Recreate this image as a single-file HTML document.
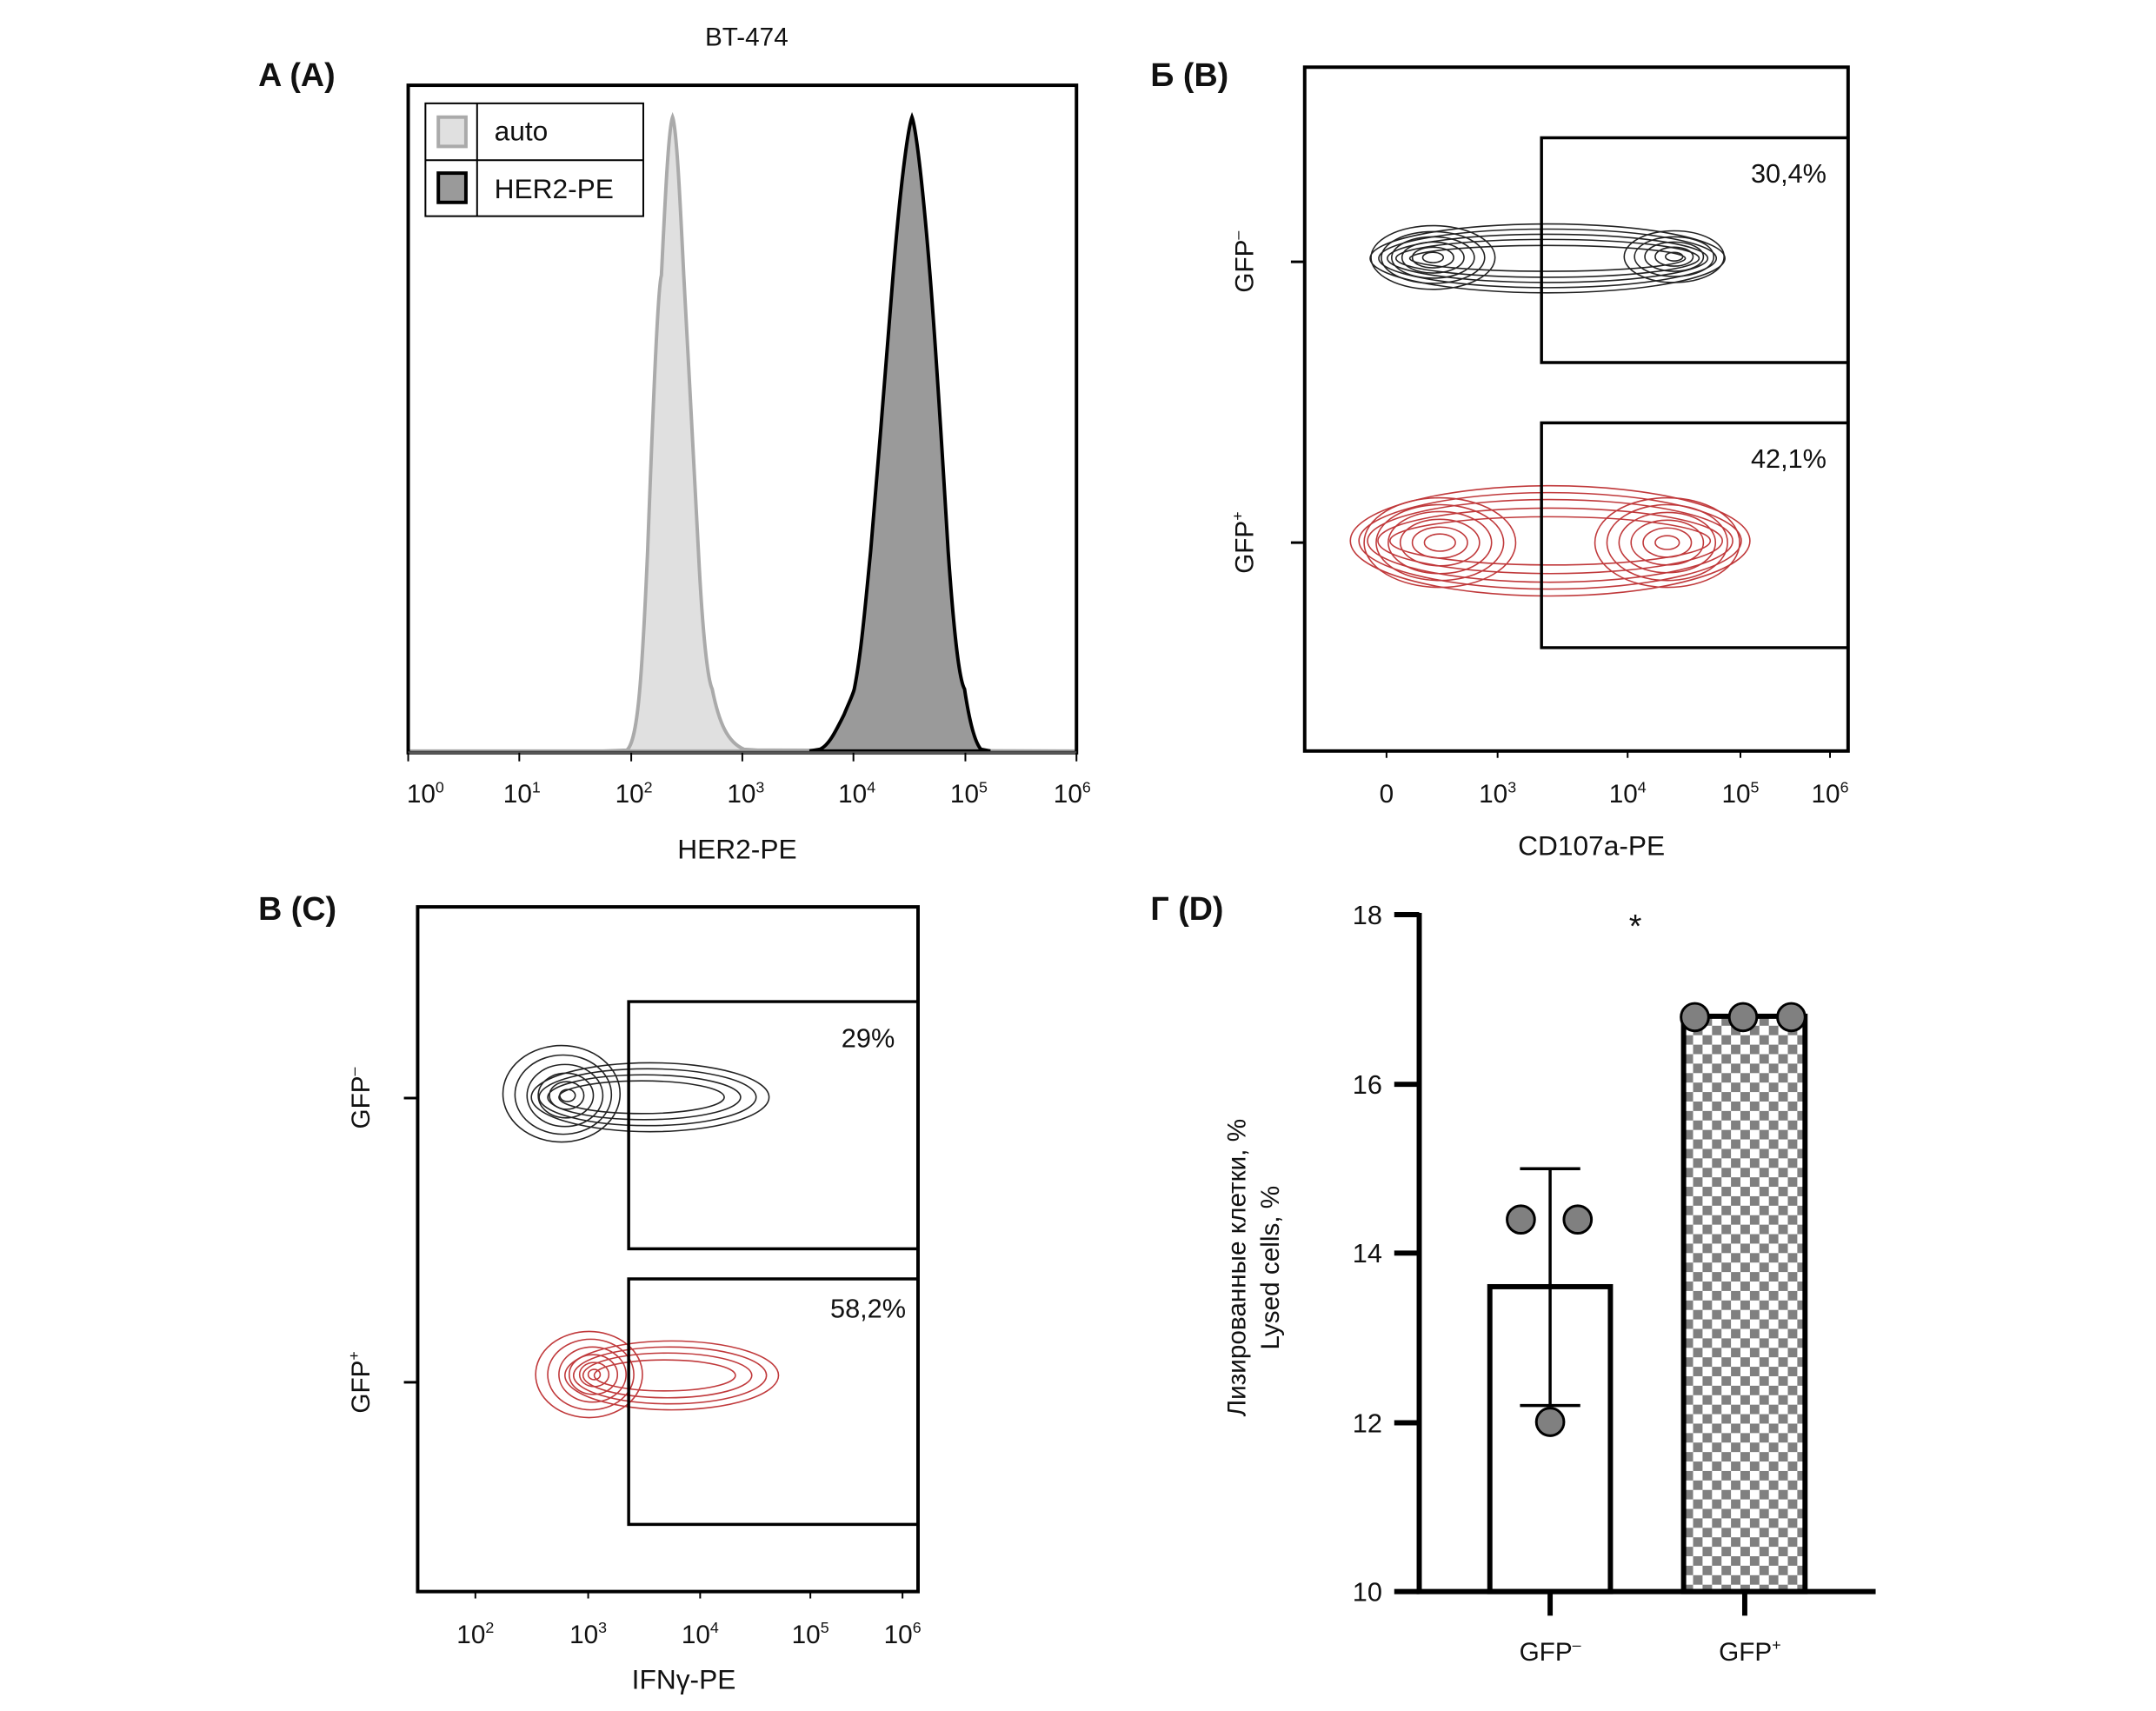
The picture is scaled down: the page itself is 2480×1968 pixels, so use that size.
<!DOCTYPE html>
<html><head><meta charset="utf-8"><style>
html,body{margin:0;padding:0;background:#fff;}
svg text{font-family:"Liberation Sans Narrow","Liberation Sans",sans-serif;fill:#111;}
</style></head><body>
<svg width="2480" height="1963" viewBox="0 0 2480 1963" xmlns="http://www.w3.org/2000/svg">
<defs>
<pattern id="chk" width="22" height="22" patternUnits="userSpaceOnUse" x="1955" y="1180">
<rect width="22" height="22" fill="#fff"/>
<rect width="11" height="11" fill="#808080"/>
<rect x="11" y="11" width="11" height="11" fill="#808080"/>
</pattern>
</defs>
<g transform="scale(0.9906)">
<!-- ===== Panel A ===== -->
<text x="867" y="53" font-size="30" text-anchor="middle">BT-474</text>
<text x="300" y="100" font-size="38" font-weight="bold">A (A)</text>
<path d="M476,872 L700,872 L728,871 C740,860 745,800 752,640 C758,480 764,330 768,320 C772,240 776,150 781,136 C786,150 790,240 794,320 C800,420 806,560 811,640 C816,740 822,790 827,800 C835,840 845,862 864,870 L880,871 L1248,872 Z" fill="#e0e0e0" stroke="#aaa" stroke-width="4"/>
<path d="M940,872 L952,870 C962,866 970,850 980,830 C986,815 990,808 992,800 C1000,760 1005,700 1011,640 C1020,540 1030,400 1037,320 C1045,220 1054,150 1059,136 C1064,150 1072,220 1080,320 C1088,420 1095,540 1101,640 C1108,740 1114,790 1120,800 C1126,840 1132,862 1139,870 L1150,872 Z" fill="#9a9a9a" stroke="#000" stroke-width="4"/>
<rect x="474" y="99" width="776" height="775" fill="none" stroke="#000" stroke-width="4"/>
<line x1="474" y1="874" x2="1250" y2="874" stroke="#555" stroke-width="3"/>
<rect x="494" y="120" width="253" height="131" fill="#fff" stroke="#000" stroke-width="2"/>
<line x1="554" y1="120" x2="554" y2="251" stroke="#000" stroke-width="2"/>
<line x1="494" y1="186" x2="747" y2="186" stroke="#000" stroke-width="2"/>
<rect x="509" y="136" width="32" height="34" fill="#e0e0e0" stroke="#aaa" stroke-width="4"/>
<rect x="509" y="201" width="32" height="34" fill="#9a9a9a" stroke="#000" stroke-width="4"/>
<text x="574" y="163" font-size="32">auto</text>
<text x="574" y="230" font-size="32">HER2-PE</text>
<g stroke="#000" stroke-width="2">
<line x1="474" y1="874" x2="474" y2="884"/><line x1="603" y1="874" x2="603" y2="884"/><line x1="733" y1="874" x2="733" y2="884"/><line x1="862" y1="874" x2="862" y2="884"/><line x1="991" y1="874" x2="991" y2="884"/><line x1="1121" y1="874" x2="1121" y2="884"/><line x1="1250" y1="874" x2="1250" y2="884"/>
</g>
<g font-size="30" text-anchor="middle">
<text x="494" y="932">10<tspan font-size="18" dy="-12">0</tspan></text>
<text x="606" y="932">10<tspan font-size="18" dy="-12">1</tspan></text>
<text x="736" y="932">10<tspan font-size="18" dy="-12">2</tspan></text>
<text x="866" y="932">10<tspan font-size="18" dy="-12">3</tspan></text>
<text x="995" y="932">10<tspan font-size="18" dy="-12">4</tspan></text>
<text x="1125" y="932">10<tspan font-size="18" dy="-12">5</tspan></text>
<text x="1245" y="932">10<tspan font-size="18" dy="-12">6</tspan></text>
</g>
<text x="856" y="997" font-size="32" text-anchor="middle">HER2-PE</text>

<!-- ===== Panel B ===== -->
<text x="1336" y="100" font-size="38" font-weight="bold">Б (B)</text>
<rect x="1515" y="78" width="631" height="794" fill="none" stroke="#000" stroke-width="4"/>
<g fill="none" stroke="#222" stroke-width="1.6">
<ellipse cx="1797" cy="300" rx="206" ry="40"/><ellipse cx="1797" cy="300" rx="196" ry="34"/><ellipse cx="1797" cy="300" rx="186" ry="28"/><ellipse cx="1797" cy="300" rx="176" ry="22"/><ellipse cx="1797" cy="300" rx="160" ry="15"/>
<ellipse cx="1664" cy="299" rx="72" ry="37"/><ellipse cx="1664" cy="299" rx="60" ry="30"/><ellipse cx="1664" cy="299" rx="48" ry="24"/><ellipse cx="1664" cy="299" rx="36" ry="18"/><ellipse cx="1664" cy="299" rx="24" ry="12"/><ellipse cx="1664" cy="299" rx="12" ry="6"/>
<ellipse cx="1944" cy="298" rx="58" ry="30"/><ellipse cx="1944" cy="298" rx="46" ry="23"/><ellipse cx="1944" cy="298" rx="34" ry="17"/><ellipse cx="1944" cy="298" rx="22" ry="11"/><ellipse cx="1944" cy="298" rx="10" ry="5"/>
</g>
<g fill="none" stroke="#c0393b" stroke-width="1.6">
<ellipse cx="1800" cy="628" rx="232" ry="64"/><ellipse cx="1800" cy="628" rx="222" ry="56"/><ellipse cx="1800" cy="628" rx="212" ry="48"/><ellipse cx="1800" cy="628" rx="200" ry="38"/><ellipse cx="1800" cy="628" rx="186" ry="28"/>
<ellipse cx="1672" cy="630" rx="88" ry="52"/><ellipse cx="1672" cy="630" rx="74" ry="44"/><ellipse cx="1672" cy="630" rx="60" ry="36"/><ellipse cx="1672" cy="630" rx="46" ry="27"/><ellipse cx="1672" cy="630" rx="32" ry="18"/><ellipse cx="1672" cy="630" rx="18" ry="10"/>
<ellipse cx="1936" cy="630" rx="84" ry="52"/><ellipse cx="1936" cy="630" rx="70" ry="44"/><ellipse cx="1936" cy="630" rx="56" ry="35"/><ellipse cx="1936" cy="630" rx="42" ry="26"/><ellipse cx="1936" cy="630" rx="28" ry="17"/><ellipse cx="1936" cy="630" rx="14" ry="8"/>
</g>
<g fill="none" stroke="#000" stroke-width="3.5">
<path d="M2146,160 L1790,160 L1790,421 L2146,421"/>
<path d="M2146,491 L1790,491 L1790,752 L2146,752"/>
</g>
<text x="2077" y="212" font-size="31" text-anchor="middle">30,4%</text>
<text x="2077" y="543" font-size="31" text-anchor="middle">42,1%</text>
<g stroke="#000" stroke-width="3"><line x1="1499" y1="304" x2="1515" y2="304"/><line x1="1499" y1="630" x2="1515" y2="630"/></g>
<text transform="translate(1455,304) rotate(-90)" font-size="30" text-anchor="middle">GFP<tspan font-size="18" dy="-12">–</tspan></text>
<text transform="translate(1455,630) rotate(-90)" font-size="30" text-anchor="middle">GFP<tspan font-size="18" dy="-12">+</tspan></text>
<g stroke="#000" stroke-width="2">
<line x1="1610" y1="872" x2="1610" y2="880"/><line x1="1739" y1="872" x2="1739" y2="880"/><line x1="1890" y1="872" x2="1890" y2="880"/><line x1="2021" y1="872" x2="2021" y2="880"/><line x1="2125" y1="872" x2="2125" y2="880"/>
</g>
<g font-size="30" text-anchor="middle">
<text x="1610" y="932">0</text>
<text x="1739" y="932">10<tspan font-size="18" dy="-12">3</tspan></text>
<text x="1890" y="932">10<tspan font-size="18" dy="-12">4</tspan></text>
<text x="2021" y="932">10<tspan font-size="18" dy="-12">5</tspan></text>
<text x="2125" y="932">10<tspan font-size="18" dy="-12">6</tspan></text>
</g>
<text x="1848" y="993" font-size="32" text-anchor="middle">CD107a-PE</text>

<!-- ===== Panel C ===== -->
<text x="300" y="1068" font-size="38" font-weight="bold">В (C)</text>
<rect x="485" y="1053" width="581" height="795" fill="none" stroke="#000" stroke-width="4"/>
<g fill="none" stroke="#222" stroke-width="1.6">
<ellipse cx="755" cy="1274" rx="138" ry="40"/><ellipse cx="752" cy="1274" rx="126" ry="33"/><ellipse cx="748" cy="1274" rx="112" ry="26"/><ellipse cx="745" cy="1274" rx="96" ry="19"/>
<ellipse cx="652" cy="1270" rx="68" ry="56"/><ellipse cx="654" cy="1271" rx="56" ry="46"/><ellipse cx="656" cy="1272" rx="44" ry="36"/><ellipse cx="657" cy="1272" rx="32" ry="26"/><ellipse cx="658" cy="1272" rx="20" ry="16"/><ellipse cx="659" cy="1272" rx="9" ry="7"/>
</g>
<g fill="none" stroke="#c0393b" stroke-width="1.6">
<ellipse cx="780" cy="1597" rx="124" ry="40"/><ellipse cx="778" cy="1597" rx="112" ry="33"/><ellipse cx="775" cy="1597" rx="98" ry="26"/><ellipse cx="772" cy="1597" rx="82" ry="18"/>
<ellipse cx="684" cy="1596" rx="62" ry="50"/><ellipse cx="686" cy="1596" rx="50" ry="41"/><ellipse cx="688" cy="1596" rx="39" ry="32"/><ellipse cx="689" cy="1596" rx="28" ry="23"/><ellipse cx="690" cy="1596" rx="17" ry="14"/><ellipse cx="690" cy="1596" rx="7" ry="6"/>
</g>
<g fill="none" stroke="#000" stroke-width="3.5">
<path d="M1066,1163 L730,1163 L730,1450 L1066,1450"/>
<path d="M1066,1485 L730,1485 L730,1770 L1066,1770"/>
</g>
<text x="1008" y="1216" font-size="31" text-anchor="middle">29%</text>
<text x="1008" y="1530" font-size="31" text-anchor="middle">58,2%</text>
<g stroke="#000" stroke-width="3"><line x1="469" y1="1275" x2="485" y2="1275"/><line x1="469" y1="1605" x2="485" y2="1605"/></g>
<text transform="translate(429,1275) rotate(-90)" font-size="30" text-anchor="middle">GFP<tspan font-size="18" dy="-12">–</tspan></text>
<text transform="translate(429,1605) rotate(-90)" font-size="30" text-anchor="middle">GFP<tspan font-size="18" dy="-12">+</tspan></text>
<g stroke="#000" stroke-width="2">
<line x1="552" y1="1848" x2="552" y2="1856"/><line x1="683" y1="1848" x2="683" y2="1856"/><line x1="813" y1="1848" x2="813" y2="1856"/><line x1="941" y1="1848" x2="941" y2="1856"/><line x1="1048" y1="1848" x2="1048" y2="1856"/>
</g>
<g font-size="30" text-anchor="middle">
<text x="552" y="1908">10<tspan font-size="18" dy="-12">2</tspan></text>
<text x="683" y="1908">10<tspan font-size="18" dy="-12">3</tspan></text>
<text x="813" y="1908">10<tspan font-size="18" dy="-12">4</tspan></text>
<text x="941" y="1908">10<tspan font-size="18" dy="-12">5</tspan></text>
<text x="1048" y="1908">10<tspan font-size="18" dy="-12">6</tspan></text>
</g>
<text x="794" y="1961" font-size="32" text-anchor="middle">IFNγ-PE</text>

<!-- ===== Panel D ===== -->
<text x="1336" y="1068" font-size="38" font-weight="bold">Г (D)</text>
<rect x="1730" y="1494" width="140" height="354" fill="#fff" stroke="#000" stroke-width="6"/>
<rect x="1955" y="1180" width="141" height="668" fill="url(#chk)" stroke="#000" stroke-width="6"/>
<g stroke="#000" stroke-width="3.5">
<line x1="1800" y1="1357" x2="1800" y2="1632"/>
<line x1="1765" y1="1357" x2="1835" y2="1357"/>
<line x1="1765" y1="1632" x2="1835" y2="1632"/>
</g>
<g fill="#808080" stroke="#000" stroke-width="3">
<circle cx="1766" cy="1416" r="16"/><circle cx="1832" cy="1416" r="16"/><circle cx="1800" cy="1651" r="16"/>
<circle cx="1968" cy="1181" r="16"/><circle cx="2024" cy="1181" r="16"/><circle cx="2080" cy="1181" r="16"/>
</g>
<g stroke="#000" stroke-width="6" fill="none">
<path d="M1648,1060 L1648,1848 L2178,1848"/>
<line x1="1619" y1="1062" x2="1648" y2="1062"/>
<line x1="1619" y1="1259" x2="1648" y2="1259"/>
<line x1="1619" y1="1455" x2="1648" y2="1455"/>
<line x1="1619" y1="1652" x2="1648" y2="1652"/>
<line x1="1619" y1="1848" x2="1648" y2="1848"/>
<line x1="1800" y1="1848" x2="1800" y2="1876"/>
<line x1="2026" y1="1848" x2="2026" y2="1876"/>
</g>
<g font-size="31" text-anchor="end">
<text x="1605" y="1073">18</text><text x="1605" y="1270">16</text><text x="1605" y="1466">14</text><text x="1605" y="1663">12</text><text x="1605" y="1859">10</text>
</g>
<text x="1899" y="1088" font-size="38" text-anchor="middle">*</text>
<text transform="translate(1446,1472) rotate(-90)" font-size="30" text-anchor="middle">Лизированные клетки, %</text>
<text transform="translate(1485,1472) rotate(-90)" font-size="30" text-anchor="middle">Lysed cells, %</text>
<text x="1800" y="1928" font-size="30" text-anchor="middle">GFP<tspan font-size="18" dy="-12">–</tspan></text>
<text x="2032" y="1928" font-size="30" text-anchor="middle">GFP<tspan font-size="18" dy="-12">+</tspan></text>
</g>
</svg>
</body></html>
